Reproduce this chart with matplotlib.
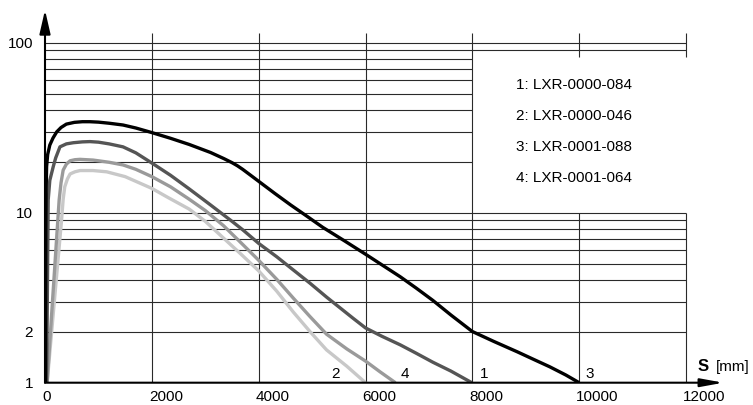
import numpy as np
import matplotlib.pyplot as plt
from matplotlib.transforms import ScaledTranslation

plt.rcParams['font.family'] = ['Liberation Sans', 'DejaVu Sans']

# curve data: distance s [mm] vs. value (log scale)
s_3 = [10, 15, 20, 30, 50, 90, 150, 220, 300, 400, 550, 700, 840, 1000, 1200, 1460, 1700, 2000,
       2350, 2700, 3100, 3350, 3500, 3600, 3700, 3850, 4000, 4300, 4600, 4900, 5200, 5600, 6000,
       6300, 6650, 6950, 7260, 7600, 8000, 8400, 8840, 9150, 9450, 9750, 10000]
v_3 = [1.0, 8.0, 13.0, 18.7, 22.0, 25.0, 27.5, 29.9, 31.7, 33.2, 34.0, 34.3, 34.3, 34.1, 33.6, 32.8, 31.5, 29.6,
       27.4, 25.2, 22.6, 20.8, 19.7, 18.9, 18.0, 16.6, 15.3, 13.0, 11.1, 9.55, 8.2, 6.85, 5.7,
       4.95, 4.2, 3.6, 3.05, 2.5, 2.0, 1.75, 1.52, 1.37, 1.24, 1.11, 1.0]

s_1 = [30, 60, 90, 155, 200, 280, 400, 530, 700, 840, 1000, 1200, 1460, 1700, 2000, 2350, 2700,
       3100, 3500, 3700, 4000, 4340, 4650, 4960, 5270, 5770, 6000, 6300, 6650, 6950, 7260, 7600, 7990]
v_1 = [1.0, 11.9, 15.5, 18.7, 21.0, 24.4, 25.4, 25.8, 26.1, 26.2, 26.0, 25.4, 24.4, 22.5, 19.6, 16.6, 13.8,
       11.1, 8.9, 7.94, 6.6, 5.5, 4.6, 3.85, 3.19, 2.39, 2.1, 1.88, 1.67, 1.49, 1.32, 1.17, 1.0]

s_4 = [40, 265, 300, 340, 400, 470, 560, 655, 900, 1200, 1460, 1700, 2000, 2350, 2700, 3000, 3340,
       3670, 4000, 4340, 4650, 4960, 5270, 5650, 6000, 6270, 6560]
v_4 = [1.0, 11.9, 15.0, 17.8, 19.3, 20.2, 20.5, 20.6, 20.4, 19.8, 19.1, 18.0, 16.3, 14.2, 12.0, 10.3, 8.4,
       6.65, 5.25, 4.05, 3.14, 2.45, 1.93, 1.58, 1.34, 1.16, 1.0]

s_2 = [40, 310, 340, 370, 420, 470, 560, 655, 900, 1155, 1500, 2000, 2300, 2700, 3000, 3340, 3670,
       4000, 4340, 4650, 4960, 5270, 5650, 6000]
v_2 = [1.0, 9.06, 12.0, 14.2, 15.8, 16.9, 17.4, 17.7, 17.7, 17.4, 16.3, 13.9, 12.3, 10.5, 8.9, 7.1, 5.7,
       4.55, 3.45, 2.6, 2.0, 1.56, 1.25, 1.0]

legend_texts = ['1: LXR-0000-084', '2: LXR-0000-046', '3: LXR-0001-088', '4: LXR-0001-064']
end_labels = ['2', '4', '1', '3']
end_label_s = [5430, 6740, 8220, 10200]

x_ticks = [0, 2000, 4000, 6000, 8000, 10000, 12000]
y_ticks = [1, 2, 10, 100]

XMAX = 12700
YMAX = 10 ** 2.1924

fig = plt.figure(figsize=(7.53, 4.05), dpi=100)
ax = fig.add_axes([45 / 753, 22.3 / 405, 678.4 / 753, 372.7 / 405])
ax.set_yscale('log')
ax.set_xlim(0, XMAX)
ax.set_ylim(1, YMAX)
for sp in ax.spines.values():
    sp.set_visible(False)

gc = '#2a2a2a'
glw = 0.8
# horizontal grid
for v in range(2, 11):
    ax.hlines(v, 0, 12000, color=gc, lw=glw)
for v in range(20, 90, 10):
    ax.hlines(v, 0, 8000, color=gc, lw=glw)
for v in (90, 100):
    ax.hlines(v, 0, 12000, color=gc, lw=glw)
# vertical grid
for s in (2000, 4000, 6000, 8000):
    ax.vlines(s, 1, 114, color=gc, lw=glw)
for s in (10000, 12000):
    ax.vlines(s, 1, 10, color=gc, lw=glw)
    ax.vlines(s, 82.4, 114, color=gc, lw=glw)

# curves
kw = dict(lw=2.4, solid_joinstyle='round', solid_capstyle='butt')
ax.plot(s_2, v_2, color='#c8c8c8', **kw)
ax.plot(s_4, v_4, color='#9a9a9a', **kw)
ax.plot(s_1, v_1, color='#555555', **kw)
ax.plot(s_3, v_3, color='#000000', **kw)

# axes arrows
ax.annotate('', xy=(0, YMAX), xytext=(0, 1), xycoords='data',
            arrowprops=dict(arrowstyle='-|>,head_length=1.44,head_width=0.33',
                            mutation_scale=10, lw=1.5, color='black',
                            shrinkA=0, shrinkB=0), annotation_clip=False)
ax.annotate('', xy=(XMAX, 1), xytext=(0, 1), xycoords='data',
            arrowprops=dict(arrowstyle='-|>,head_length=1.37,head_width=0.25',
                            mutation_scale=10, lw=1.5, color='black',
                            shrinkA=0, shrinkB=0), annotation_clip=False)

# ticks
ax.set_yticks(y_ticks)
ax.set_yticklabels([str(t) for t in y_ticks])
ax.yaxis.set_minor_locator(plt.NullLocator())
ax.set_xticks(x_ticks)
ax.set_xticklabels([str(t) for t in x_ticks])
ax.tick_params(axis='both', length=0, labelsize=11)
ax.tick_params(axis='y', pad=8.5)
ax.tick_params(axis='x', pad=5)
shift = ScaledTranslation(-3 / 100, 0, fig.dpi_scale_trans)
for lab in ax.get_xticklabels():
    lab.set_horizontalalignment('left')
    lab.set_transform(lab.get_transform() + shift)

# legend texts
leg_y = [56.4, 37.2, 24.4, 15.9]
for t, y in zip(legend_texts, leg_y):
    ax.text(8817, y, t, fontsize=11, ha='left', va='center')

# curve end labels
for t, s in zip(end_labels, end_label_s):
    ax.text(s, 1.125, t, fontsize=11, ha='center', va='center')

ax.text(12224, 1.24, 'S', fontsize=12, fontweight='bold', ha='left', va='center')
ax.text(12560, 1.24, '[mm]', fontsize=11, ha='left', va='center')

fig.savefig('out.png', dpi=100)
